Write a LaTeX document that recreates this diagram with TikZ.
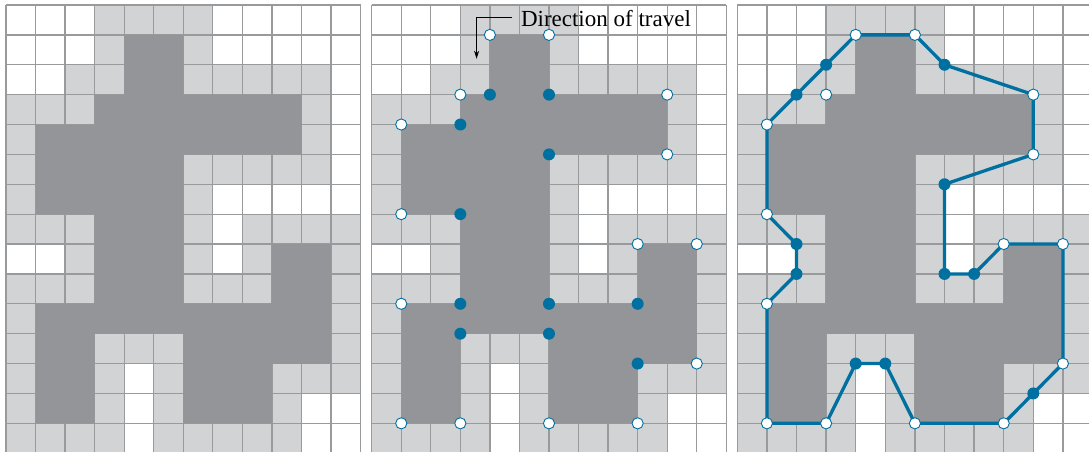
\documentclass[tikz,border=0pt]{standalone}
\usepackage{fontspec}
\setmainfont{Liberation Serif}
\usetikzlibrary{arrows.meta}
\definecolor{lightcell}{RGB}{209,211,212}
\definecolor{darkcell}{RGB}{147,149,152}
\definecolor{gridgray}{RGB}{152,154,156}
\definecolor{mppblue}{RGB}{0,112,160}
\tikzset{
  lightfill/.style={fill=lightcell},
  darkfill/.style={fill=darkcell},
  gridline/.style={draw=gridgray,line width=1.25pt},
  opendot/.style={circle,draw=mppblue,fill=white,line width=0.9pt,inner sep=0pt,minimum size=11.2pt},
  soliddot/.style={circle,fill=mppblue,inner sep=0pt,minimum size=12pt},
  mppline/.style={draw=mppblue,line width=3.3pt,line join=round},
  travelarrow/.style={draw=black,line width=0.9pt,-{Stealth[length=8pt,width=5pt]}},
  labeltext/.style={inner sep=0pt,font=\fontsize{23}{26}\selectfont}
}
\newcommand\drawpanel{%
  \foreach \r/\cs in {0/{3,4,5,6},1/{3,6},2/{2,3,6,7,8,9,10},3/{0,1,2,10},4/{0,10},
    5/{0,6,7,8,9,10},6/{0,6},7/{0,1,2,6,8,9,10,11},8/{2,6,8,11},9/{0,1,2,6,7,8,11},
    10/{0,11},11/{0,3,4,5,11},12/{0,3,5,9,10,11},13/{0,3,5,9},14/{0,1,2,3,5,6,7,8,9}}{%
    \foreach \c in \cs {\fill[lightfill] (\c,\r) rectangle ++(1,1);}}
  \foreach \i in {0,...,12} {\draw[gridline] (\i,0) -- (\i,15);}
  \foreach \j in {0,...,15} {\draw[gridline] (0,\j) -- (12,\j);}
  \fill[darkfill] (4,1) -- (6,1) -- (6,3) -- (10,3) -- (10,5) -- (6,5) -- (6,10) -- (9,10)
    -- (9,8) -- (11,8) -- (11,12) -- (9,12) -- (9,14) -- (6,14) -- (6,11) -- (3,11)
    -- (3,14) -- (1,14) -- (1,10) -- (3,10) -- (3,7) -- (1,7) -- (1,4) -- (3,4) -- (3,3)
    -- (4,3) -- cycle;
}
\begin{document}
\begin{tikzpicture}[x=1pt,y=1pt]
\useasboundingbox (0,0) rectangle (1089,-452);
\clip (0,0) rectangle (1089,-452);
\fill[white] (0,0) rectangle (1089,-452);
% panel 1
\begin{scope}[shift={(6pt,-5pt)},x=29.55pt,y=-29.88pt]
  \drawpanel
\end{scope}
% panel 2
\begin{scope}[shift={(371.7pt,-5pt)},x=29.55pt,y=-29.88pt]
  \drawpanel
  \foreach \n/\i/\j in {1/4/1,2/6/1,3/3/3,4/10/3,5/1/4,6/10/5,7/1/7,8/9/8,9/11/8,
     10/1/10,11/11/12,12/1/14,13/3/14,14/6/14,15/9/14}
     {\node[opendot] (w\n) at (\i,\j) {};}
  \foreach \n/\i/\j in {1/4/3,2/6/3,3/3/4,4/6/5,5/3/7,6/3/10,7/6/10,8/9/10,9/3/11,
     10/6/11,11/9/12}
     {\node[soliddot] (f\n) at (\i,\j) {};}
  \coordinate (tip) at (3.55,1.8);
\end{scope}
\node[labeltext,anchor=base west] (lbl) at (520.8,-26.9) {Direction of travel};
\draw[travelarrow] ([xshift=-9pt,yshift=1pt]lbl.west) -| (tip);
% panel 3
\begin{scope}[shift={(737.3pt,-5pt)},x=29.6pt,y=-29.88pt]
  \drawpanel
  \coordinate (m1) at (4,1);   \coordinate (m2) at (6,1);   \coordinate (m3) at (7,2);
  \coordinate (m4) at (10,3);  \coordinate (m5) at (10,5);  \coordinate (m6) at (7,6);
  \coordinate (m7) at (7,9);   \coordinate (m8) at (8,9);   \coordinate (m9) at (9,8);
  \coordinate (m10) at (11,8); \coordinate (m11) at (11,12);\coordinate (m12) at (10,13);
  \coordinate (m13) at (9,14); \coordinate (m14) at (6,14); \coordinate (m15) at (5,12);
  \coordinate (m16) at (4,12); \coordinate (m17) at (3,14); \coordinate (m18) at (1,14);
  \coordinate (m19) at (1,10); \coordinate (m20) at (2,9);  \coordinate (m21) at (2,8);
  \coordinate (m22) at (1,7);  \coordinate (m23) at (1,4);  \coordinate (m24) at (2,3);
  \coordinate (m25) at (3,2);
  \draw[mppline] (m1) -- (m2) -- (m3) -- (m4) -- (m5) -- (m6) -- (m7) -- (m8) -- (m9)
    -- (m10) -- (m11) -- (m12) -- (m13) -- (m14) -- (m15) -- (m16) -- (m17) -- (m18)
    -- (m19) -- (m20) -- (m21) -- (m22) -- (m23) -- (m24) -- (m25) -- cycle;
  \foreach \n in {1,2,4,5,9,10,11,13,14,17,18,19,22,23}
     {\node[opendot] (mo\n) at (m\n) {};}
  \foreach \n in {3,6,7,8,12,15,16,20,21,24,25}
     {\node[soliddot] (ms\n) at (m\n) {};}
  \node[opendot] (iso) at (3,3) {};
\end{scope}
\end{tikzpicture}
\end{document}
